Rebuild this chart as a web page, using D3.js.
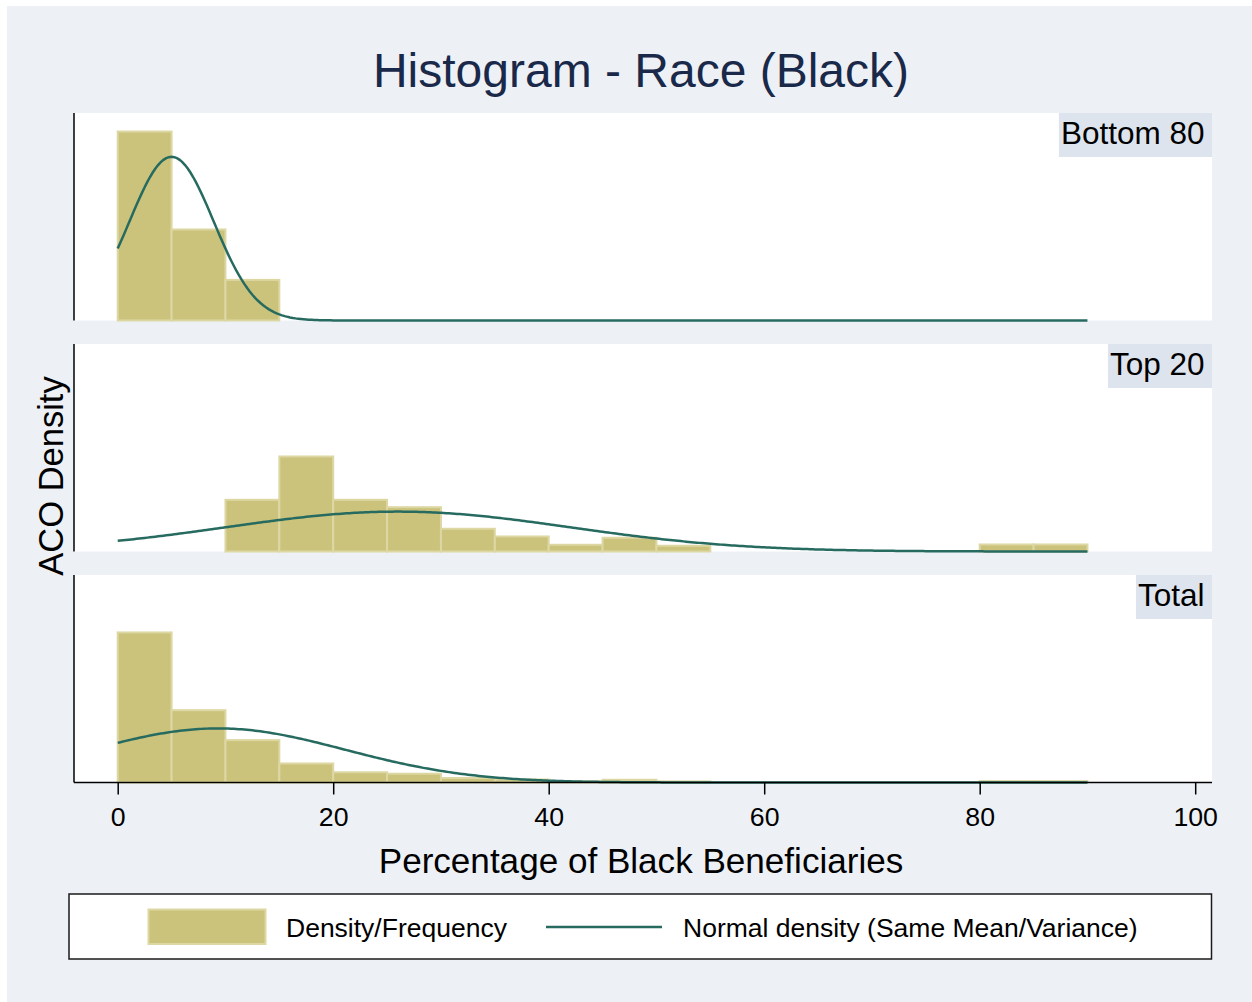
<!DOCTYPE html>
<html>
<head>
<meta charset="utf-8">
<script src="https://cdn.jsdelivr.net/npm/d3@7"></script>
<style>
  body { margin: 0; background: #ffffff; }
  text { font-family: "Liberation Sans", Arial, sans-serif; }
</style>
</head>
<body>
<svg id="chart" width="1252" height="1002"></svg>
<script>
// Histogram bins: 5-point wide bins starting at these values
const binStarts = [0, 5, 10, 15, 20, 25, 30, 35, 40, 45, 50, 55, 60, 65, 70, 75, 80, 85];
const binWidth = 5;

// Panel labels
const panelNames = ["Bottom 80", "Top 20", "Total"];

// Density per bin for each group
const bottom80 = [0.1181, 0.0569, 0.0254, 0, 0, 0, 0, 0, 0, 0, 0, 0, 0, 0, 0, 0, 0, 0];
const top20    = [0, 0, 0.0323, 0.0594, 0.0323, 0.0277, 0.0142, 0.0094, 0.0042, 0.0086, 0.0036, 0, 0, 0, 0, 0, 0.0044, 0.0044];
const total    = [0.0938, 0.0452, 0.0265, 0.0119, 0.0064, 0.0055, 0.0028, 0.0019, 0.0008, 0.0017, 0.0007, 0, 0, 0, 0, 0, 0.0009, 0.0009];

// Normal density overlay: same mean / standard deviation as each group
const normalMean = [5.0, 26.0, 9.3];
const normalSD   = [3.9, 16.0, 11.8];
const curveRange = [0, 90];

// X axis ticks
const xTicks = [0, 20, 40, 60, 80, 100];

const series = [bottom80, top20, total];

const svg = d3.select("#chart");

// Graph region background
svg.append("rect")
  .attr("x", 7).attr("y", 6)
  .attr("width", 1245).attr("height", 996)
  .attr("fill", "#edf1f6");

const plotLeft = 74, plotRight = 1212;
const panelTops = [113, 344, 575];
const panelH = 207.5;

const x = d3.scaleLinear().domain([0, 100]).range([117.7, 1195.2]);
const y = d3.scaleLinear().domain([0, 0.1297]).range([panelH, 0]);

const barFill = "#cbc37c";
const barEdge = "#ddd7a4";
const lineColor = "#276b60";

function normalPdf(v, m, s) {
  return Math.exp(-0.5 * ((v - m) / s) ** 2) / (s * Math.sqrt(2 * Math.PI));
}

panelTops.forEach((top, i) => {
  const g = svg.append("g").attr("transform", `translate(0,${top})`);

  // white plot area
  g.append("rect")
    .attr("x", plotLeft).attr("y", 0)
    .attr("width", plotRight - plotLeft).attr("height", panelH)
    .attr("fill", "#ffffff");

  // bars
  const bins = binStarts.map((b, j) => ({ x0: b, x1: b + binWidth, d: series[i][j] }))
    .filter(b => b.d > 0);
  g.selectAll("rect.bar").data(bins).join("rect")
    .attr("class", "bar")
    .attr("x", b => x(b.x0))
    .attr("y", b => y(b.d))
    .attr("width", b => x(b.x1) - x(b.x0))
    .attr("height", b => y(0) - y(b.d))
    .attr("fill", barFill)
    .attr("stroke", barEdge)
    .attr("stroke-width", 2);

  // normal density curve
  const pts = d3.range(curveRange[0], curveRange[1] + 0.001, 0.25)
    .map(v => [v, normalPdf(v, normalMean[i], normalSD[i])]);
  g.append("path")
    .datum(pts)
    .attr("fill", "none")
    .attr("stroke", lineColor)
    .attr("stroke-width", 2.5)
    .attr("d", d3.line().x(d => x(d[0])).y(d => y(d[1])));

  // left axis line
  g.append("line")
    .attr("x1", plotLeft).attr("x2", plotLeft)
    .attr("y1", 0).attr("y2", panelH)
    .attr("stroke", "#000").attr("stroke-width", 1.5);

  // panel label box
  const lbl = g.append("text")
    .attr("x", plotRight - 7.5).attr("y", 31)
    .attr("text-anchor", "end")
    .attr("font-size", 31.5)
    .attr("fill", "#000")
    .text(panelNames[i]);
  const w = lbl.node().getComputedTextLength();
  g.insert("rect", "text")
    .attr("x", plotRight - 7.5 - w - 2).attr("y", 0)
    .attr("width", w + 9.5).attr("height", 44)
    .attr("fill", "#dde4ee");
});

// X axis on the bottom panel
const axisY = panelTops[2] + panelH;
svg.append("line")
  .attr("x1", plotLeft).attr("x2", plotRight)
  .attr("y1", axisY).attr("y2", axisY)
  .attr("stroke", "#000").attr("stroke-width", 1.5);

const xAxis = svg.append("g")
  .attr("transform", `translate(0,${axisY})`)
  .call(d3.axisBottom(x).tickValues(xTicks).tickSize(12).tickSizeOuter(0).tickPadding(13));
xAxis.select(".domain").remove();
xAxis.selectAll(".tick line").attr("stroke", "#000").attr("stroke-width", 1.5);
xAxis.selectAll(".tick text")
  .attr("font-size", 26.7)
  .attr("font-family", "Liberation Sans, Arial, sans-serif")
  .attr("fill", "#000");

// Titles
svg.append("text")
  .attr("x", 641).attr("y", 87)
  .attr("text-anchor", "middle")
  .attr("font-size", 48)
  .attr("fill", "#1a2949")
  .text("Histogram - Race (Black)");

svg.append("text")
  .attr("x", 641).attr("y", 873)
  .attr("text-anchor", "middle")
  .attr("font-size", 35.1)
  .attr("fill", "#000")
  .text("Percentage of Black Beneficiaries");

svg.append("text")
  .attr("transform", "translate(63,476) rotate(-90)")
  .attr("text-anchor", "middle")
  .attr("font-size", 34.5)
  .attr("fill", "#000")
  .text("ACO Density");

// Legend
const leg = svg.append("g");
leg.append("rect")
  .attr("x", 69).attr("y", 894)
  .attr("width", 1142.5).attr("height", 65)
  .attr("fill", "#ffffff")
  .attr("stroke", "#1a1a1a").attr("stroke-width", 1.5);
leg.append("rect")
  .attr("x", 148.5).attr("y", 909.5)
  .attr("width", 117).attr("height", 34.5)
  .attr("fill", barFill)
  .attr("stroke", barEdge).attr("stroke-width", 2);
leg.append("text")
  .attr("x", 286).attr("y", 937)
  .attr("font-size", 26.5)
  .attr("fill", "#000")
  .text("Density/Frequency");
leg.append("line")
  .attr("x1", 546).attr("x2", 662)
  .attr("y1", 927).attr("y2", 927)
  .attr("stroke", lineColor).attr("stroke-width", 2.5);
leg.append("text")
  .attr("x", 683).attr("y", 937)
  .attr("font-size", 26.5)
  .attr("fill", "#000")
  .text("Normal density (Same Mean/Variance)");
</script>
</body>
</html>
